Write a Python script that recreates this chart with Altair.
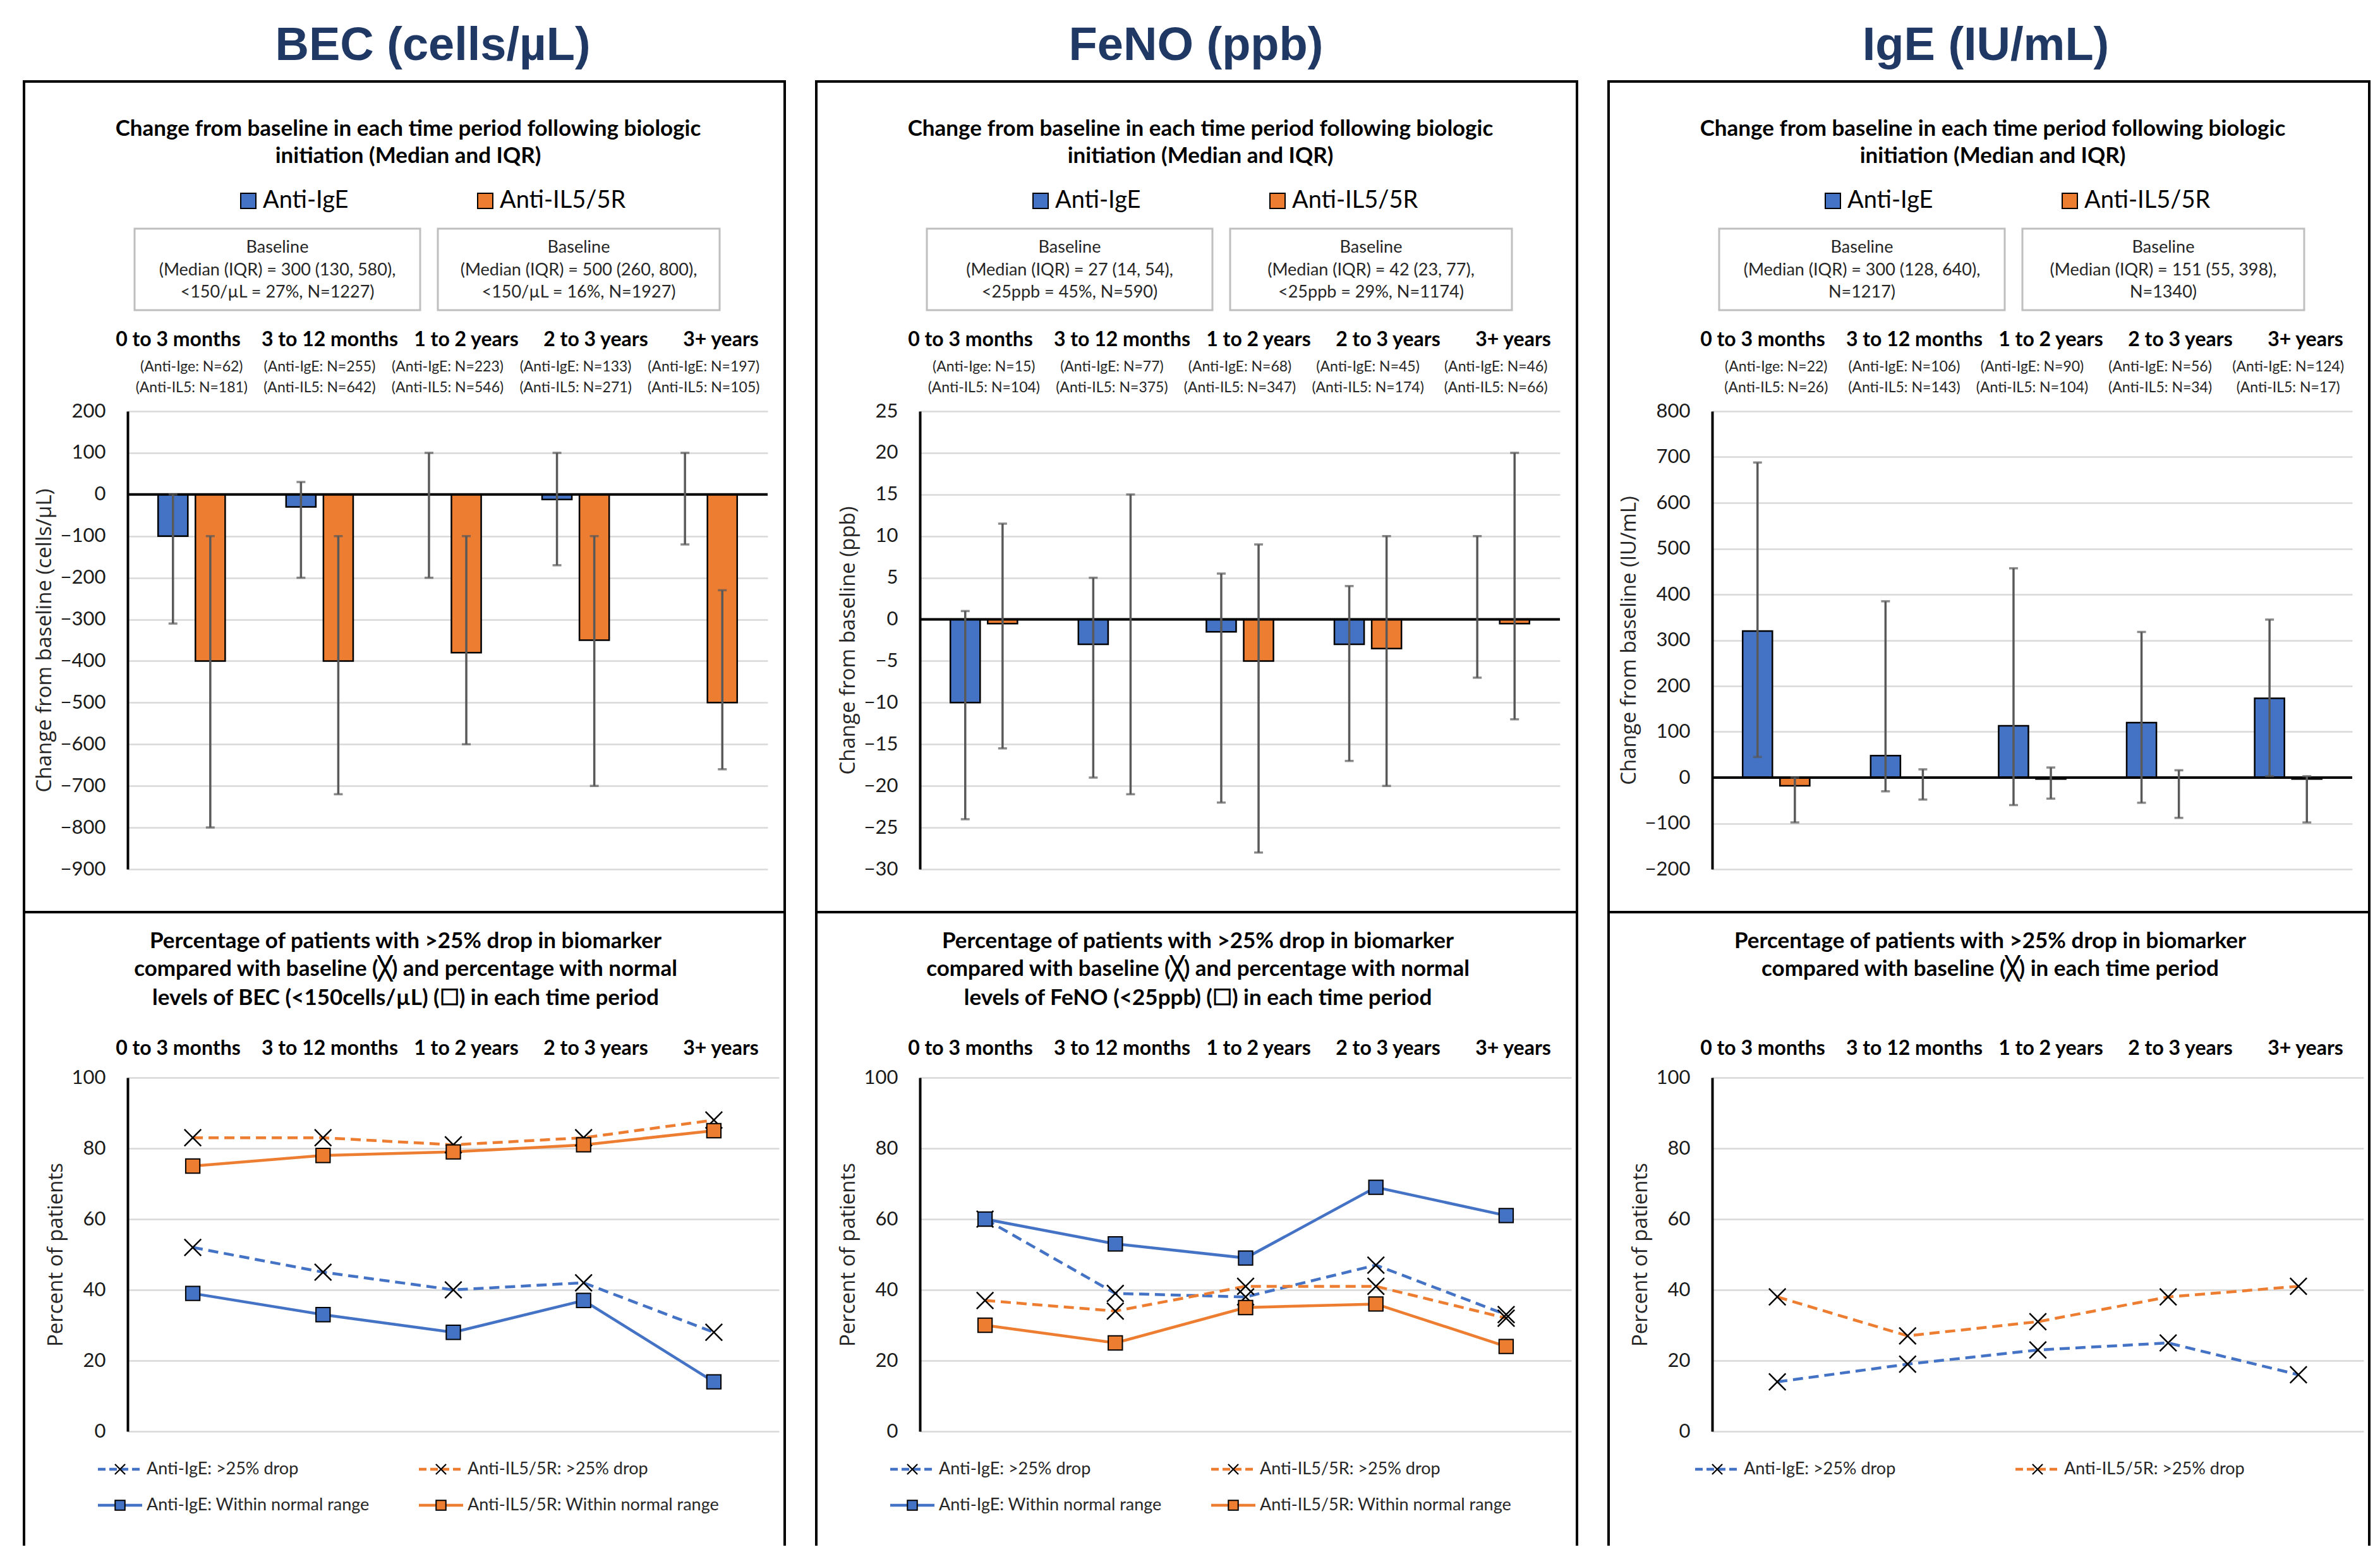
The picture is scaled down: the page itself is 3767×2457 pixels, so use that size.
import altair as alt
import pandas as pd

# ---------------- data ----------------
periods = ["0 to 3 months", "3 to 12 months", "1 to 2 years", "2 to 3 years", "3+ years"]
groups = ["Anti-IgE", "Anti-IL5/5R"]

# Top panels: median change and IQR
bec_ige_med = [-100, -30, 0, -12, 0]
bec_ige_q1 = [-310, -200, -200, -170, -120]
bec_ige_q3 = [0, 30, 100, 100, 100]
bec_il5_med = [-400, -400, -380, -350, -500]
bec_il5_q1 = [-800, -720, -600, -700, -660]
bec_il5_q3 = [-100, -100, -100, -100, -230]

feno_ige_med = [-10, -3, -1.5, -3, 0]
feno_ige_q1 = [-24, -19, -22, -17, -7]
feno_ige_q3 = [1, 5, 5.5, 4, 10]
feno_il5_med = [-0.5, 0, -5, -3.5, -0.5]
feno_il5_q1 = [-15.5, -21, -28, -20, -12]
feno_il5_q3 = [11.5, 15, 9, 10, 20]

ige_ige_med = [320, 48, 113, 120, 173]
ige_ige_q1 = [45, -30, -60, -55, 3]
ige_ige_q3 = [688, 385, 457, 318, 345]
ige_il5_med = [-18, 0, -3, 0, -3]
ige_il5_q1 = [-98, -48, -46, -88, -98]
ige_il5_q3 = [0, 18, 22, 16, 3]

# sample sizes
bec_n_ige = [62, 255, 223, 133, 197]
bec_n_il5 = [181, 642, 546, 271, 105]
feno_n_ige = [15, 77, 68, 45, 46]
feno_n_il5 = [104, 375, 347, 174, 66]
ige_n_ige = [22, 106, 90, 56, 124]
ige_n_il5 = [26, 143, 104, 34, 17]
n_prefix_ige = ["(Anti-Ige: N=", "(Anti-IgE: N=", "(Anti-IgE: N=", "(Anti-IgE: N=", "(Anti-IgE: N="]
n_prefix_il5 = "(Anti-IL5: N="

# Bottom panels: percentages
bec_drop_ige = [52, 45, 40, 42, 28]
bec_drop_il5 = [83, 83, 81, 83, 88]
bec_norm_ige = [39, 33, 28, 37, 14]
bec_norm_il5 = [75, 78, 79, 81, 85]
feno_drop_ige = [60, 39, 38, 47, 33]
feno_drop_il5 = [37, 34, 41, 41, 32]
feno_norm_ige = [60, 53, 49, 69, 61]
feno_norm_il5 = [30, 25, 35, 36, 24]
ige_drop_ige = [14, 19, 23, 25, 16]
ige_drop_il5 = [38, 27, 31, 38, 41]

bec_ticks = list(range(-900, 201, 100))
feno_ticks = list(range(-30, 26, 5))
ige_ticks = list(range(-200, 801, 100))
pct_ticks = list(range(0, 101, 20))

headers = ["BEC (cells/µL)", "FeNO (ppb)", "IgE (IU/mL)"]
top_sub = ["Change from baseline in each time period following biologic",
           "initiation (Median and IQR)"]
bec_sub = ["Percentage of patients with >25% drop in biomarker",
           "compared with baseline (╳) and percentage with normal",
           "levels of BEC (<150cells/µL) (☐) in each time period"]
feno_sub = ["Percentage of patients with >25% drop in biomarker",
            "compared with baseline (╳) and percentage with normal",
            "levels of FeNO (<25ppb) (☐) in each time period"]
ige_sub = ["Percentage of patients with >25% drop in biomarker",
           "compared with baseline (╳) in each time period"]
bec_base = [["Baseline", "(Median (IQR) = 300 (130, 580),", "<150/µL = 27%, N=1227)"],
            ["Baseline", "(Median (IQR) = 500 (260, 800),", "<150/µL = 16%, N=1927)"]]
feno_base = [["Baseline", "(Median (IQR) = 27 (14, 54),", "<25ppb = 45%, N=590)"],
             ["Baseline", "(Median (IQR) = 42 (23, 77),", "<25ppb = 29%, N=1174)"]]
ige_base = [["Baseline", "(Median (IQR) = 300 (128, 640),", "N=1217)"],
            ["Baseline", "(Median (IQR) = 151 (55, 398),", "N=1340)"]]

# ---------------- style / layout ----------------
BLUE, ORANGE = "#4472C4", "#ED7D31"
NAVY = "#1F3864"
ERR = "#595959"
GRID = "#D9D9D9"
FONT = "Lato"
W_TOP, H_TOP = 1013, 725
W_BOT, H_BOT = 1031, 560
XPATH = "M-1,-1L1,1M-1,1L1,-1"
CAT_LABEL_X = [80, 320, 536, 741, 939]   # header row positions (text boxes above the plots)
ONE = pd.DataFrame({"k": [0]})


def txt(s, x, y, size, weight="normal", font=FONT, color="#000000", align="center", baseline="middle"):
    return alt.Chart(ONE).mark_text(font=font, fontSize=size, fontWeight=weight, color=color,
                                    align=align, baseline=baseline).encode(
        x=alt.value(x), y=alt.value(y), text=alt.value(s))


def box(x0, x1, y0, y1, color, width):
    return alt.Chart(ONE).mark_rect(filled=False, stroke=color, strokeWidth=width).encode(
        x=alt.value(x0), x2=alt.value(x1), y=alt.value(y0), y2=alt.value(y1))


def yaxis(title, ticks):
    return alt.Axis(values=ticks, title=title, grid=True, gridColor=GRID, gridWidth=2.5,
                    domain=True, domainColor="black", domainWidth=4, ticks=False,
                    labelPadding=35, labelFont=FONT, labelFontSize=31, labelColor="#1a1a1a",
                    labelFlush=False, labelOverlap=False,
                    titleFont="Open Sans", titleFontSize=33, titleFontWeight="normal",
                    titleColor="#262626", titlePadding=8)


color_enc = alt.Color("group:N", scale=alt.Scale(domain=groups, range=[BLUE, ORANGE]), legend=None)


def cat_labels(y):
    return [txt(p, CAT_LABEL_X[i], y, 32, "bold") for i, p in enumerate(periods)]


def top_panel(header, header_x, ige, il5, n_ige, n_il5, ydom, ticks, ytitle, base_txt, frame=False):
    rows = []
    for i, p in enumerate(periods):
        rows.append(dict(period=p, group=groups[0], med=ige[0][i], q1=ige[1][i], q3=ige[2][i]))
        rows.append(dict(period=p, group=groups[1], med=il5[0][i], q1=il5[1][i], q3=il5[2][i]))
    df = pd.DataFrame(rows)
    X = alt.X("period:N", sort=periods, scale=alt.Scale(domain=periods, paddingInner=0.476, paddingOuter=0.238), axis=None)
    XO = alt.XOffset("group:N", sort=groups, scale=alt.Scale(domain=groups, paddingInner=0.203, paddingOuter=0))
    ys = alt.Scale(domain=ydom, nice=False, zero=False)
    ax = yaxis(ytitle, ticks)
    base = alt.Chart(df)
    bars = base.mark_bar(stroke="black", strokeWidth=2.5).encode(
        x=X, xOffset=XO, y=alt.Y("med:Q", scale=ys, axis=ax), y2=alt.datum(0), color=color_enc)
    zero = alt.Chart(ONE).mark_rule(color="black", strokeWidth=4).encode(y=alt.Y(datum=0, scale=ys, axis=ax))
    err = base.mark_rule(color=ERR, strokeWidth=3.5).encode(
        x=X, xOffset=XO, y=alt.Y("q1:Q", scale=ys, axis=ax), y2="q3:Q")
    caps = base.transform_fold(["q1", "q3"], as_=["k", "v"]).mark_tick(
        color=ERR, thickness=3.5, size=14, orient="horizontal").encode(
        x=X, xOffset=XO, y=alt.Y("v:Q", scale=ys, axis=ax))
    lab = pd.DataFrame({"period": periods,
                        "n1": [n_prefix_ige[i] + str(n_ige[i]) + ")" for i in range(5)],
                        "n2": [n_prefix_il5 + str(n_il5[i]) + ")" for i in range(5)]})
    n1 = alt.Chart(lab).mark_text(font=FONT, fontSize=23, baseline="middle", color="#262626").encode(
        x=X, y=alt.value(-70), text="n1:N")
    n2 = alt.Chart(lab).mark_text(font=FONT, fontSize=23, baseline="middle", color="#262626").encode(
        x=X, y=alt.value(-37), text="n2:N")
    deco = [box(-164, 1040, -522, 793, "black", 4),
            txt(header, header_x, -556, 74, "bold", "Liberation Sans", NAVY, baseline="alphabetic"),
            txt(top_sub[0], 444, -447, 35, "bold"),
            txt(top_sub[1], 444, -404, 35, "bold")]
    for gx, label, c in [(179, groups[0], BLUE), (554, groups[1], ORANGE)]:
        deco.append(alt.Chart(ONE).mark_rect(fill=c, stroke="black", strokeWidth=2).encode(
            x=alt.value(gx), x2=alt.value(gx + 24), y=alt.value(-345), y2=alt.value(-321)))
        deco.append(txt(label, gx + 35, -333, 38, align="left"))
    for (bx0, bx1), lines in zip([(11, 463), (491, 937)], base_txt):
        deco.append(box(bx0, bx1, -289, -160, "#BFBFBF", 3))
        for ly, line in zip([-259, -223, -188], lines):
            deco.append(txt(line, (bx0 + bx1) / 2, ly, 27, color="#262626"))
    deco += cat_labels(-113)
    if frame:
        deco.insert(0, alt.Chart(ONE).mark_rect(opacity=0).encode(
            x=alt.value(-194), x2=alt.value(3557), y=alt.value(-643), y2=alt.value(1798)))
    return alt.layer(*deco, bars, zero, err, caps, n1, n2).properties(width=W_TOP, height=H_TOP)


def bottom_panel(sub, drop_ige, drop_il5, norm_ige=None, norm_il5=None, legend_x=(-47, 461)):
    rows = []
    for i, p in enumerate(periods):
        rows.append(dict(period=p, group=groups[0], kind="drop", value=drop_ige[i]))
        rows.append(dict(period=p, group=groups[1], kind="drop", value=drop_il5[i]))
        if norm_ige is not None:
            rows.append(dict(period=p, group=groups[0], kind="norm", value=norm_ige[i]))
            rows.append(dict(period=p, group=groups[1], kind="norm", value=norm_il5[i]))
    df = pd.DataFrame(rows)
    X = alt.X("period:N", sort=periods, scale=alt.Scale(domain=periods, type="point", padding=0.5), axis=None)
    ys = alt.Scale(domain=[0, 100], nice=False)
    ax = yaxis("Percent of patients", pct_ticks)
    Y = alt.Y("value:Q", scale=ys, axis=ax)
    drop = alt.Chart(df).transform_filter(alt.datum.kind == "drop")
    norm = alt.Chart(df).transform_filter(alt.datum.kind == "norm")
    layers = [drop.mark_line(strokeWidth=4.5, strokeDash=[16, 9]).encode(x=X, y=Y, color=color_enc)]
    if norm_ige is not None:
        layers.append(norm.mark_line(strokeWidth=4.5).encode(x=X, y=Y, color=color_enc))
    layers.append(drop.mark_point(shape=XPATH, filled=False, color="black", strokeWidth=2.5, size=700,
                                  opacity=1).encode(x=X, y=Y))
    if norm_ige is not None:
        layers.append(norm.mark_point(shape="square", filled=True, stroke="black", strokeWidth=2, size=500,
                                      opacity=1).encode(x=X, y=Y, color=color_enc))
    deco = [alt.Chart(ONE).mark_rule(color="black", strokeWidth=4).encode(
                x=alt.value(-164), y=alt.value(-262), y2=alt.value(741)),
            alt.Chart(ONE).mark_rule(color="black", strokeWidth=4).encode(
                x=alt.value(1040), y=alt.value(-262), y2=alt.value(741))]
    for ly, line in zip([-216, -172, -126], sub):
        deco.append(txt(line, 440, ly, 35, "bold"))
    deco += cat_labels(-46)
    entries = [(0, 0, groups[0] + ": >25% drop", BLUE, True), (1, 0, groups[1] + ": >25% drop", ORANGE, True)]
    if norm_ige is not None:
        entries += [(0, 1, groups[0] + ": Within normal range", BLUE, False),
                    (1, 1, groups[1] + ": Within normal range", ORANGE, False)]
    for col, row, label, c, dashed in entries:
        x0 = legend_x[col]
        yy = 620 + 57 * row
        deco.append(alt.Chart(ONE).mark_rule(color=c, strokeWidth=4.5, strokeDash=[12, 6] if dashed else [1, 0]).encode(
            x=alt.value(x0), x2=alt.value(x0 + 70), y=alt.value(yy)))
        if dashed:
            deco.append(alt.Chart(ONE).mark_point(shape=XPATH, filled=False, color="black", strokeWidth=2.2,
                                                  size=260, opacity=1).encode(x=alt.value(x0 + 35), y=alt.value(yy)))
        else:
            deco.append(alt.Chart(ONE).mark_point(shape="square", filled=True, fill=c, stroke="black", strokeWidth=2,
                                                  size=240, opacity=1).encode(x=alt.value(x0 + 35), y=alt.value(yy)))
        deco.append(txt(label, x0 + 77, yy, 27, align="left", color="#262626"))
    return alt.layer(*deco, *layers).properties(width=W_BOT, height=H_BOT)


p1 = top_panel(headers[0], 483, (bec_ige_med, bec_ige_q1, bec_ige_q3), (bec_il5_med, bec_il5_q1, bec_il5_q3),
               bec_n_ige, bec_n_il5, [-900, 200], bec_ticks, "Change from baseline (cells/µL)", bec_base, frame=True)
p2 = top_panel(headers[1], 437, (feno_ige_med, feno_ige_q1, feno_ige_q3), (feno_il5_med, feno_il5_q1, feno_il5_q3),
               feno_n_ige, feno_n_il5, [-30, 25], feno_ticks, "Change from baseline (ppb)", feno_base)
p3 = top_panel(headers[2], 433, (ige_ige_med, ige_ige_q1, ige_ige_q3), (ige_il5_med, ige_il5_q1, ige_il5_q3),
               ige_n_ige, ige_n_il5, [-200, 800], ige_ticks, "Change from baseline (IU/mL)", ige_base)
p4 = bottom_panel(bec_sub, bec_drop_ige, bec_drop_il5, bec_norm_ige, bec_norm_il5)
p5 = bottom_panel(feno_sub, feno_drop_ige, feno_drop_il5, feno_norm_ige, feno_norm_il5)
p6 = bottom_panel(ige_sub, ige_drop_ige, ige_drop_il5, legend_x=(-27, 480))

chart = alt.concat(p1, p2, p3, p4, p5, p6, columns=3,
                   spacing=alt.RowColnumber(row=330, column=223),
                   bounds="flush", align="each").resolve_scale(
    x="independent", y="independent", color="independent").properties(
    padding=0, background="white").configure_view(strokeWidth=0)

chart.save("out.html", embed_options={"renderer": "svg", "actions": False})
